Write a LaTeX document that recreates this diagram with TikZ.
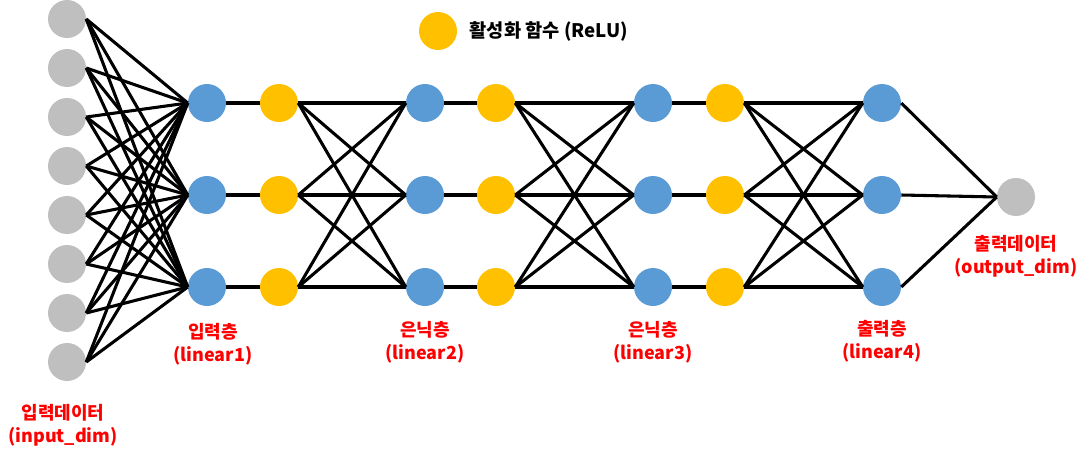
\documentclass[tikz,border=0pt]{standalone}
\usepackage{fontspec}
\setmainfont{Noto Sans CJK KR}
\usetikzlibrary{positioning}

\definecolor{grayc}{HTML}{BFBFBF}
\definecolor{bluec}{HTML}{5B9BD5}
\definecolor{yellowc}{HTML}{FFC000}

\tikzset{
  neuron/.style={circle, minimum size=28.5pt, inner sep=0pt},
  datanode/.style={neuron, fill=grayc},
  linnode/.style={neuron, fill=bluec},
  actnode/.style={neuron, fill=yellowc},
  wire/.style={black, line width=2.3pt},
  tag/.style={text=red, align=center, font=\bfseries\fontsize{13.5}{17.5}\selectfont}
}

\begin{document}
\begin{tikzpicture}[x=0.75pt,y=-0.75pt]
\useasboundingbox (0,0) rectangle (1092,461);

% input data
\foreach \i in {1,...,8}
  \node[datanode] (x\i) at (67,{19+49*(\i-1)}) {};

% linear layers and activations
\foreach \l/\xb in {1/207,2/425,3/653,4/882}
  \foreach \r/\yr in {1/103,2/195,3/287}
    \node[linnode] (h\l\r) at (\xb,\yr) {};
\foreach \l/\xa in {1/279,2/496,3/725}
  \foreach \r/\yr in {1/103,2/195,3/287}
    \node[actnode] (a\l\r) at (\xa,\yr) {};

% output data
\node[datanode] (y) at (1016,197) {};

% legend
\node[actnode] (legend) at (438,31) {};
\node[anchor=west, font=\bfseries\fontsize{14}{16}\selectfont] (legendtext) at (465,31) {활성화 함수 (ReLU)};

% connections
\foreach \i in {1,...,8}
  \foreach \r in {1,2,3}
    \draw[wire] (x\i.east) -- (h1\r.west);
\foreach \l in {1,2,3}
  \foreach \r in {1,2,3}
    \draw[wire] (h\l\r.east) -- (a\l\r.west);
\foreach \l [evaluate=\l as \n using int(\l+1)] in {1,2,3}
  \foreach \r in {1,2,3}
    \foreach \s in {1,2,3}
      \draw[wire] (a\l\r.east) -- (h\n\s.west);
\foreach \r in {1,2,3}
  \draw[wire] (h4\r.east) -- (y.west);

% labels
\node[tag] (indata) at (63,425) {입력데이터\\(input\_dim)};
\node[tag] (lin1) at (213,344) {입력층\\(linear1)};
\node[tag] (lin2) at (425,342) {은닉층\\(linear2)};
\node[tag] (lin3) at (653,342) {은닉층\\(linear3)};
\node[tag] (lin4) at (882,341) {출력층\\(linear4)};
\node[tag] (outdata) at (1016,256) {출력데이터\\(output\_dim)};
\end{tikzpicture}
\end{document}
